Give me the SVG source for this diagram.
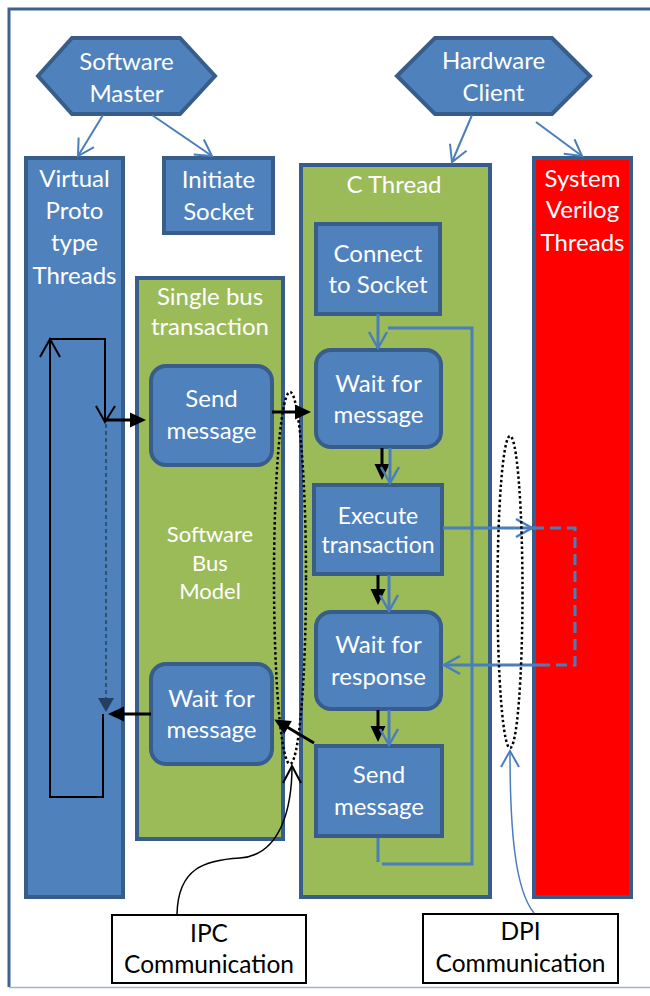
<svg xmlns="http://www.w3.org/2000/svg" width="650" height="996" viewBox="0 0 650 996">
  <style>
    .blue { fill: #4f81bd; stroke: #385d8a; stroke-width: 4; }
    .green { fill: #9bbb59; stroke: #385d8a; stroke-width: 4; }
    .red { fill: #ff0000; stroke: #385d8a; stroke-width: 4; }
    .note { fill: #ffffff; stroke: #000000; stroke-width: 2; }
    .t { font-family: Lato, "Open Sans", "Liberation Sans", sans-serif; font-size: 24px; fill: #ffffff; text-anchor: middle; }
    .tm { font-family: Lato, "Open Sans", "Liberation Sans", sans-serif; font-size: 23px; fill: #ffffff; text-anchor: middle; }
    .ts { font-family: Lato, "Open Sans", "Liberation Sans", sans-serif; font-size: 22px; fill: #ffffff; text-anchor: middle; }
    .tb { font-family: Lato, "Open Sans", "Liberation Sans", sans-serif; font-size: 24.5px; fill: #000000; text-anchor: middle; }
    .bl { fill: none; stroke: #4a7ebb; stroke-width: 2; }
    .bl3 { fill: none; stroke: #4a7ebb; stroke-width: 3; }
    .bk { fill: none; stroke: #000000; stroke-width: 2; }
    .bk3 { fill: none; stroke: #000000; stroke-width: 3; }
    .dots { fill: none; stroke: #000000; stroke-width: 2.5; stroke-dasharray: 2.5 2.5; }
  </style>
  <defs>
    <marker id="openBlue" markerUnits="userSpaceOnUse" viewBox="-20 -12 24 24" markerWidth="24" markerHeight="24" refX="0" refY="0" orient="auto">
      <path d="M-16,-9 L0,0 L-16,9" fill="none" stroke="#4a7ebb" stroke-width="2.5"/>
    </marker>
    <marker id="openBlueThin" markerUnits="userSpaceOnUse" viewBox="-20 -12 24 24" markerWidth="24" markerHeight="24" refX="0" refY="0" orient="auto">
      <path d="M-16,-9 L0,0 L-16,9" fill="none" stroke="#4a7ebb" stroke-width="2"/>
    </marker>
    <marker id="openBlack" markerUnits="userSpaceOnUse" viewBox="-20 -12 24 24" markerWidth="24" markerHeight="24" refX="0" refY="0" orient="auto">
      <path d="M-17,-9 L0,0 L-17,9" fill="none" stroke="#000000" stroke-width="2"/>
    </marker>
    <marker id="fillBlack" markerUnits="userSpaceOnUse" viewBox="-12 -10 24 20" markerWidth="24" markerHeight="20" refX="0" refY="0" orient="auto">
      <path d="M-7,-7.5 L9,0 L-7,7.5 Z" fill="#000000"/>
    </marker>
    <marker id="fillNavy" markerUnits="userSpaceOnUse" viewBox="-12 -10 24 20" markerWidth="24" markerHeight="20" refX="0" refY="0" orient="auto">
      <path d="M-2,-8 L12,0 L-2,8 Z" fill="#243f60"/>
    </marker>
  </defs>

  <!-- page frame -->
  <path d="M650,9 L9,9 L9,987" fill="none" stroke="#3e6291" stroke-width="3"/>
  <path d="M9,987.5 L650,987.5" fill="none" stroke="#a3b4cb" stroke-width="1.5"/>

  <!-- swim-lane columns -->
  <g id="virtual-proto-threads">
    <rect class="blue" x="26" y="158" width="97" height="739"/>
    <text class="t" x="74.5" y="187">Virtual</text>
    <text class="t" x="74.5" y="219">Proto</text>
    <text class="t" x="74.5" y="251">type</text>
    <text class="t" x="74.5" y="284">Threads</text>
  </g>
  <g id="initiate-socket">
    <rect class="blue" x="164" y="158" width="109" height="75"/>
    <text class="t" x="218.5" y="188">Initiate</text>
    <text class="t" x="218.5" y="220">Socket</text>
  </g>
  <g id="single-bus-transaction">
    <rect class="green" x="137" y="278" width="146" height="561"/>
    <text class="t" x="210" y="305">Single bus</text>
    <text class="t" x="210" y="335">transaction</text>
    <text class="ts" x="210" y="542">Software</text>
    <text class="ts" x="210" y="571">Bus</text>
    <text class="ts" x="210" y="599">Model</text>
  </g>
  <g id="c-thread">
    <rect class="green" x="301" y="165" width="189" height="732"/>
    <text class="t" x="394" y="193">C Thread</text>
  </g>
  <g id="system-verilog-threads">
    <rect class="red" x="534" y="158" width="97" height="739"/>
    <text class="t" x="582.5" y="187">System</text>
    <text class="t" x="582.5" y="218">Verilog</text>
    <text class="t" x="582.5" y="251">Threads</text>
  </g>

  <!-- masters -->
  <g id="software-master">
    <polygon class="blue" points="38,76 72,38 180,38 215,76 180,114 72,114"/>
    <text class="t" x="126.5" y="70">Software</text>
    <text class="t" x="126.5" y="102">Master</text>
  </g>
  <g id="hardware-client">
    <polygon class="blue" points="397,76 435,38 552,38 590,76 552,114 435,114"/>
    <text class="t" x="493.5" y="69">Hardware</text>
    <text class="t" x="493.5" y="101">Client</text>
  </g>

  <!-- software bus model steps -->
  <g id="sb-send-message">
    <rect class="blue" x="151" y="366" width="121" height="99" rx="15"/>
    <text class="t" x="211.5" y="407">Send</text>
    <text class="t" x="211.5" y="439">message</text>
  </g>
  <g id="sb-wait-for-message">
    <rect class="blue" x="151" y="664" width="121" height="100" rx="15"/>
    <text class="t" x="211.5" y="707">Wait for</text>
    <text class="t" x="211.5" y="738">message</text>
  </g>

  <!-- C thread steps -->
  <g id="connect-to-socket">
    <rect class="blue" x="316" y="224" width="124" height="90"/>
    <text class="t" x="378" y="262">Connect</text>
    <text class="t" x="378" y="293">to Socket</text>
  </g>
  <g id="c-wait-for-message">
    <rect class="blue" x="316" y="350" width="125" height="97" rx="15"/>
    <text class="t" x="378.5" y="392">Wait for</text>
    <text class="t" x="378.5" y="423">message</text>
  </g>
  <g id="execute-transaction">
    <rect class="blue" x="314" y="485" width="128" height="89"/>
    <text class="tm" x="378" y="524">Execute</text>
    <text class="tm" x="378" y="553">transaction</text>
  </g>
  <g id="wait-for-response">
    <rect class="blue" x="316" y="612" width="125" height="97" rx="15"/>
    <text class="t" x="378.5" y="653">Wait for</text>
    <text class="t" x="378.5" y="685">response</text>
  </g>
  <g id="c-send-message">
    <rect class="blue" x="316" y="746" width="126" height="90"/>
    <text class="t" x="379" y="783">Send</text>
    <text class="t" x="379" y="815">message</text>
  </g>

  <!-- communication callouts -->
  <g id="ipc-communication">
    <rect class="note" x="112" y="915" width="194" height="68"/>
    <text class="tb" x="209" y="942">IPC</text>
    <text class="tb" x="209" y="973">Communication</text>
  </g>
  <g id="dpi-communication">
    <rect class="note" x="423" y="914" width="195" height="69"/>
    <text class="tb" x="520.5" y="940">DPI</text>
    <text class="tb" x="520.5" y="972">Communication</text>
  </g>

  <g id="connectors">
    <!-- spawn arrows from the masters -->
    <path class="bl" d="M103,115 L78,156" marker-end="url(#openBlueThin)"/>
    <path class="bl" d="M152,115 L212,156" marker-end="url(#openBlueThin)"/>
    <path class="bl" d="M472,115 L452,162" marker-end="url(#openBlueThin)"/>
    <path class="bl" d="M536,122 L582,156" marker-end="url(#openBlueThin)"/>

    <!-- virtual prototype thread loop -->
    <path class="bk" d="M50,797 L50,340"/>
    <path class="bk" d="M40,357 L50,339 L60,357"/>
    <path class="bk" d="M49,339 L105,339 L105,421"/>
    <path class="bk" d="M96,406 L105,422 L115,406"/>
    <path class="bk3" d="M105,420 L137,420" marker-end="url(#fillBlack)"/>
    <path d="M106,424 L106,700" fill="none" stroke="#243f60" stroke-width="1.5" stroke-dasharray="4 3" marker-end="url(#fillNavy)"/>
    <path class="bk3" d="M151,714 L117,714" marker-end="url(#fillBlack)"/>
    <path class="bk" d="M103,714 L103,797 L49,797"/>

    <!-- IPC messages -->
    <path class="bk3" d="M272,412 L302,412" marker-end="url(#fillBlack)"/>
    <path class="bk3" d="M314,743 L282,724" marker-end="url(#fillBlack)"/>

    <!-- C thread flow (black) -->
    <path class="bk3" d="M382,448 L382,471" marker-end="url(#fillBlack)"/>
    <path class="bk3" d="M378,575 L378,596" marker-end="url(#fillBlack)"/>
    <path class="bk3" d="M378,710 L378,733" marker-end="url(#fillBlack)"/>

    <!-- C thread flow (blue) -->
    <path class="bl3" d="M378,314 L378,348" marker-end="url(#openBlue)"/>
    <path class="bl3" d="M390,448 L390,483" marker-end="url(#openBlue)"/>
    <path class="bl3" d="M389,575 L389,611" marker-end="url(#openBlue)"/>
    <path class="bl3" d="M389,710 L389,745" marker-end="url(#openBlue)"/>
    <path class="bl3" d="M378,838 L378,862"/>
    <path class="bl3" d="M382,864 L472,864 L472,328 L388,328"/>

    <!-- DPI call into the SystemVerilog threads and back -->
    <path class="bl3" d="M443,528 L532,528" marker-end="url(#openBlue)"/>
    <path class="bl3" d="M533,528 L575,528 L575,665 L537,665" stroke-dasharray="11 6"/>
    <path class="bl3" d="M540,665 L444,665" marker-end="url(#openBlue)"/>

    <!-- communication boundaries -->
    <ellipse class="dots" cx="290" cy="578" rx="16" ry="186"/>
    <ellipse class="dots" cx="510" cy="592" rx="12.5" ry="156"/>

    <!-- callout leaders -->
    <path d="M177,914 C178,868 205,860 240,858 C282,855 292,805 292,766" fill="none" stroke="#000000" stroke-width="1.5" marker-end="url(#openBlack)"/>
    <path d="M534,913 C515,890 510,830 510,751" fill="none" stroke="#4a7ebb" stroke-width="1.5" marker-end="url(#openBlueThin)"/>
  </g>
</svg>
